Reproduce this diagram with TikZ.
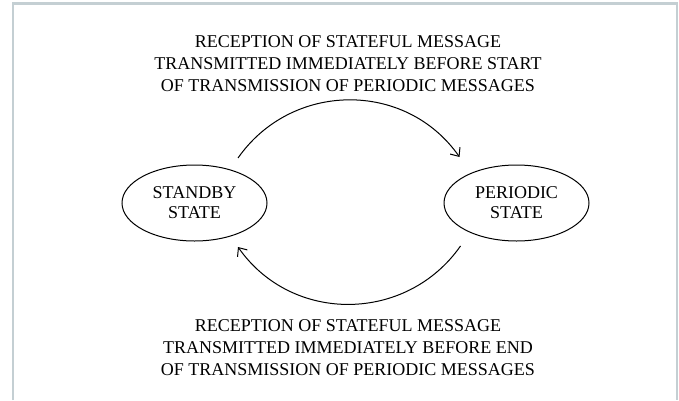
\documentclass[tikz,border=0pt]{standalone}
\usepackage{fontspec}
\setmainfont{Liberation Serif}
\usetikzlibrary{arrows.meta,positioning,shapes.geometric}
\definecolor{framegray}{HTML}{C4CFD3}
\begin{document}
\begin{tikzpicture}[x=1pt,y=1pt,>={Straight Barb[length=7pt,width=12pt]},node distance=176pt]
  \tikzstyle{statebox}=[draw,ellipse,line width=1pt,align=center,inner sep=0pt,minimum width=145pt,minimum height=76pt,font=\fontsize{18}{20}\selectfont]
  \tikzstyle{lbl}=[align=center,inner sep=0pt,font=\fontsize{18}{22}\selectfont]
  \useasboundingbox (0,0) rectangle (679,400);
  \draw[framegray,line width=2.5pt] (13,0) -- (13,396.5) -- (677,396.5) -- (677,0);
  \node[statebox] (sb) at (194.5,197) {STANDBY\\STATE};
  \node[statebox,right=of sb] (per) {PERIODIC\\STATE};
  % free ends of the two arcs
  \coordinate (sbtop) at ([shift={(43.5,45)}]sb.center);
  \coordinate (pertop) at ([shift={(-57,46)}]per.center);
  \coordinate (perbot) at ([shift={(-56,-43)}]per.center);
  \coordinate (sbbot) at ([shift={(43.5,-44)}]sb.center);
  \draw[line width=1pt,->] (sbtop) to[out=55,in=125,looseness=1.08] (pertop);
  \draw[line width=1pt,->] (perbot) to[out=-125,in=-55,looseness=1.08] (sbbot);
  \node[lbl] (toplbl) at (348,336) {RECEPTION OF STATEFUL MESSAGE\\TRANSMITTED IMMEDIATELY BEFORE START\\OF TRANSMISSION OF PERIODIC MESSAGES};
  \node[lbl] (botlbl) at (348,52) {RECEPTION OF STATEFUL MESSAGE\\TRANSMITTED IMMEDIATELY BEFORE END\\OF TRANSMISSION OF PERIODIC MESSAGES};
\end{tikzpicture}
\end{document}
